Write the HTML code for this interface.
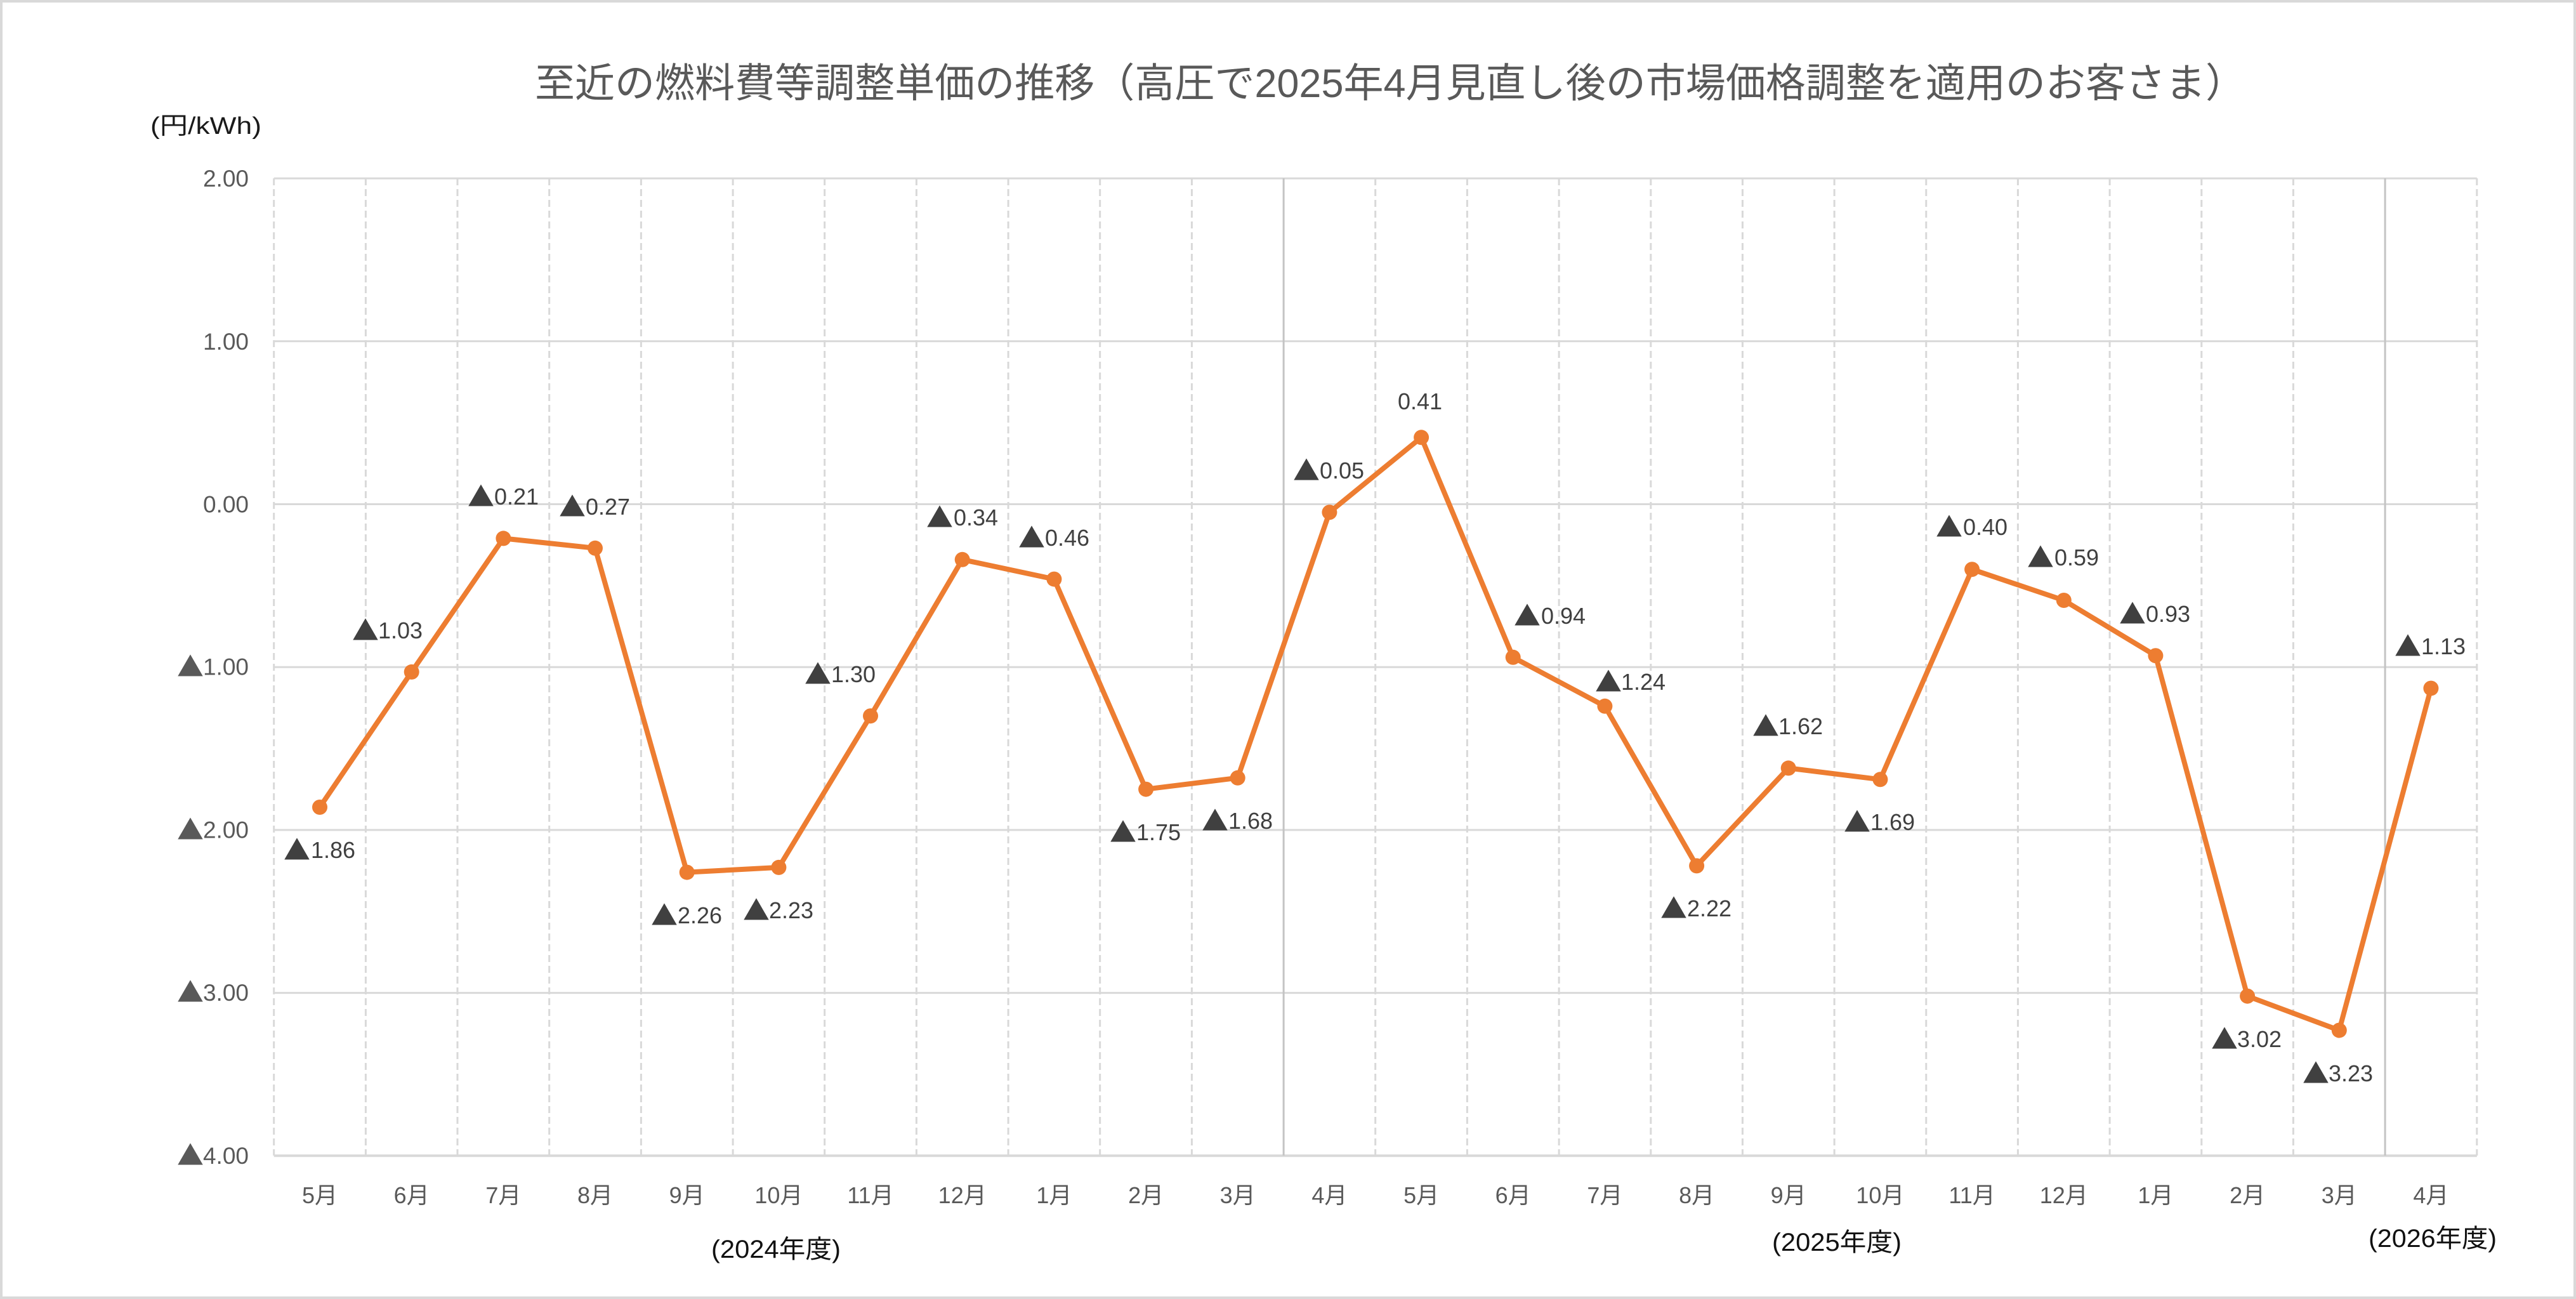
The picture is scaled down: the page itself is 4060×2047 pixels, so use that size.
<!DOCTYPE html>
<html lang="ja">
<head>
<meta charset="utf-8">
<style>
  html, body { margin: 0; padding: 0; background: #ffffff; }
  svg { display: block; }
  .cjk { font-family: "Liberation Sans", "Noto Sans CJK JP", sans-serif; }
  .num { font-family: "Liberation Sans", sans-serif; }
  .tri { font-family: "Noto Sans CJK JP", "DejaVu Sans", sans-serif; }
</style>
</head>
<body>
<svg width="4060" height="2047" viewBox="0 0 4060 2047" xmlns="http://www.w3.org/2000/svg">
  <rect x="0" y="0" width="4060" height="2047" fill="#ffffff"/>
  <rect x="2" y="2" width="4056" height="2043" fill="none" stroke="#d9d9d9" stroke-width="4"/>

  <!-- Title -->
  <text class="cjk" x="843" y="153" font-size="63.5" fill="#595959" textLength="2696" lengthAdjust="spacingAndGlyphs">至近の燃料費等調整単価の推移（高圧で2025年4月見直し後の市場価格調整を適用のお客さま）</text>

  <!-- Unit -->
  <text class="cjk" x="237" y="211" font-size="38" fill="#1a1a1a" textLength="175" lengthAdjust="spacingAndGlyphs">(円/kWh)</text>

  <!-- Horizontal gridlines -->
  <g stroke="#d9d9d9" stroke-width="3">
    <line x1="431.7" y1="281.1" x2="3903.8" y2="281.1"/>
    <line x1="431.7" y1="537.8" x2="3903.8" y2="537.8"/>
    <line x1="431.7" y1="794.5" x2="3903.8" y2="794.5"/>
    <line x1="431.7" y1="1051.2" x2="3903.8" y2="1051.2"/>
    <line x1="431.7" y1="1307.9" x2="3903.8" y2="1307.9"/>
    <line x1="431.7" y1="1564.6" x2="3903.8" y2="1564.6"/>
    <line x1="431.7" y1="1821.3" x2="3903.8" y2="1821.3" stroke-width="4"/>
  </g>

  <!-- Vertical dashed gridlines -->
  <g stroke="#d9d9d9" stroke-width="3" stroke-dasharray="11 6">
    <line x1="431.7" y1="281" x2="431.7" y2="1821"/>
    <line x1="576.4" y1="281" x2="576.4" y2="1821"/>
    <line x1="721.0" y1="281" x2="721.0" y2="1821"/>
    <line x1="865.7" y1="281" x2="865.7" y2="1821"/>
    <line x1="1010.4" y1="281" x2="1010.4" y2="1821"/>
    <line x1="1155.1" y1="281" x2="1155.1" y2="1821"/>
    <line x1="1299.7" y1="281" x2="1299.7" y2="1821"/>
    <line x1="1444.4" y1="281" x2="1444.4" y2="1821"/>
    <line x1="1589.1" y1="281" x2="1589.1" y2="1821"/>
    <line x1="1733.7" y1="281" x2="1733.7" y2="1821"/>
    <line x1="1878.4" y1="281" x2="1878.4" y2="1821"/>
    <line x1="2167.7" y1="281" x2="2167.7" y2="1821"/>
    <line x1="2312.4" y1="281" x2="2312.4" y2="1821"/>
    <line x1="2457.1" y1="281" x2="2457.1" y2="1821"/>
    <line x1="2601.8" y1="281" x2="2601.8" y2="1821"/>
    <line x1="2746.4" y1="281" x2="2746.4" y2="1821"/>
    <line x1="2891.1" y1="281" x2="2891.1" y2="1821"/>
    <line x1="3035.8" y1="281" x2="3035.8" y2="1821"/>
    <line x1="3180.4" y1="281" x2="3180.4" y2="1821"/>
    <line x1="3325.1" y1="281" x2="3325.1" y2="1821"/>
    <line x1="3469.8" y1="281" x2="3469.8" y2="1821"/>
    <line x1="3614.4" y1="281" x2="3614.4" y2="1821"/>
    <line x1="3903.8" y1="281" x2="3903.8" y2="1821"/>
  </g>
  <!-- Solid fiscal-year separators -->
  <g stroke="#c4c4c4" stroke-width="3">
    <line x1="2023.1" y1="281" x2="2023.1" y2="1821"/>
    <line x1="3759.1" y1="281" x2="3759.1" y2="1821"/>
  </g>

  <!-- Y axis tick labels -->
  <g class="num" font-size="37" fill="#595959" text-anchor="end">
    <text x="392" y="294.1">2.00</text>
    <text x="392" y="550.8">1.00</text>
    <text x="392" y="807.5">0.00</text>
    <text x="392" y="1063.7">1.00</text>
    <text x="392" y="1320.4">2.00</text>
    <text x="392" y="1577.1">3.00</text>
    <text x="392" y="1833.8">4.00</text>
  </g>
  <g class="tri" font-size="42" fill="#595959">
    <text x="279" y="1066">▲</text>
    <text x="279" y="1323">▲</text>
    <text x="279" y="1579">▲</text>
    <text x="279" y="1836">▲</text>
  </g>

  <!-- X axis labels -->
  <g class="cjk" font-size="36" fill="#595959" text-anchor="middle">
    <text x="504.0" y="1896">5月</text>
    <text x="648.7" y="1896">6月</text>
    <text x="793.4" y="1896">7月</text>
    <text x="938.0" y="1896">8月</text>
    <text x="1082.7" y="1896">9月</text>
    <text x="1227.4" y="1896">10月</text>
    <text x="1372.0" y="1896">11月</text>
    <text x="1516.7" y="1896">12月</text>
    <text x="1661.4" y="1896">1月</text>
    <text x="1806.1" y="1896">2月</text>
    <text x="1950.7" y="1896">3月</text>
    <text x="2095.4" y="1896">4月</text>
    <text x="2240.1" y="1896">5月</text>
    <text x="2384.7" y="1896">6月</text>
    <text x="2529.4" y="1896">7月</text>
    <text x="2674.1" y="1896">8月</text>
    <text x="2818.7" y="1896">9月</text>
    <text x="2963.4" y="1896">10月</text>
    <text x="3108.1" y="1896">11月</text>
    <text x="3252.8" y="1896">12月</text>
    <text x="3397.4" y="1896">1月</text>
    <text x="3542.1" y="1896">2月</text>
    <text x="3686.8" y="1896">3月</text>
    <text x="3831.4" y="1896">4月</text>
  </g>

  <!-- Fiscal year labels -->
  <g class="cjk" font-size="40" fill="#111111">
    <text x="1121" y="1982" textLength="204" lengthAdjust="spacingAndGlyphs">(2024年度)</text>
    <text x="2793" y="1971" textLength="204" lengthAdjust="spacingAndGlyphs">(2025年度)</text>
    <text x="3733" y="1965" textLength="202" lengthAdjust="spacingAndGlyphs">(2026年度)</text>
  </g>

  <!-- Series line -->
  <polyline fill="none" stroke="#ED7D31" stroke-width="8" stroke-linejoin="round" stroke-linecap="round"
    points="504.0,1272.0 648.7,1058.9 793.4,848.4 938.0,863.8 1082.7,1374.6 1227.4,1366.9 1372.0,1128.2 1516.7,881.8 1661.4,912.6 1806.1,1243.7 1950.7,1225.8 2095.4,807.3 2240.1,689.3 2384.7,1035.8 2529.4,1112.8 2674.1,1364.4 2818.7,1210.4 2963.4,1228.3 3108.1,897.2 3252.8,946.0 3397.4,1033.2 3542.1,1569.7 3686.8,1623.6 3831.4,1084.6"/>
  <g fill="#ED7D31">
    <circle cx="504.0" cy="1272.0" r="12"/>
    <circle cx="648.7" cy="1058.9" r="12"/>
    <circle cx="793.4" cy="848.4" r="12"/>
    <circle cx="938.0" cy="863.8" r="12"/>
    <circle cx="1082.7" cy="1374.6" r="12"/>
    <circle cx="1227.4" cy="1366.9" r="12"/>
    <circle cx="1372.0" cy="1128.2" r="12"/>
    <circle cx="1516.7" cy="881.8" r="12"/>
    <circle cx="1661.4" cy="912.6" r="12"/>
    <circle cx="1806.1" cy="1243.7" r="12"/>
    <circle cx="1950.7" cy="1225.8" r="12"/>
    <circle cx="2095.4" cy="807.3" r="12"/>
    <circle cx="2240.1" cy="689.3" r="12"/>
    <circle cx="2384.7" cy="1035.8" r="12"/>
    <circle cx="2529.4" cy="1112.8" r="12"/>
    <circle cx="2674.1" cy="1364.4" r="12"/>
    <circle cx="2818.7" cy="1210.4" r="12"/>
    <circle cx="2963.4" cy="1228.3" r="12"/>
    <circle cx="3108.1" cy="897.2" r="12"/>
    <circle cx="3252.8" cy="946.0" r="12"/>
    <circle cx="3397.4" cy="1033.2" r="12"/>
    <circle cx="3542.1" cy="1569.7" r="12"/>
    <circle cx="3686.8" cy="1623.6" r="12"/>
    <circle cx="3831.4" cy="1084.6" r="12"/>
  </g>

  <!-- Data labels: numbers -->
  <g class="num" font-size="36" fill="#404040" text-anchor="end">
    <text x="560" y="1352" textLength="70" lengthAdjust="spacingAndGlyphs">1.86</text>
    <text x="666" y="1006" textLength="70" lengthAdjust="spacingAndGlyphs">1.03</text>
    <text x="849" y="795" textLength="70" lengthAdjust="spacingAndGlyphs">0.21</text>
    <text x="993" y="811" textLength="70" lengthAdjust="spacingAndGlyphs">0.27</text>
    <text x="1138" y="1455" textLength="70" lengthAdjust="spacingAndGlyphs">2.26</text>
    <text x="1282" y="1447" textLength="70" lengthAdjust="spacingAndGlyphs">2.23</text>
    <text x="1380" y="1075" textLength="70" lengthAdjust="spacingAndGlyphs">1.30</text>
    <text x="1573" y="828" textLength="70" lengthAdjust="spacingAndGlyphs">0.34</text>
    <text x="1717" y="860" textLength="70" lengthAdjust="spacingAndGlyphs">0.46</text>
    <text x="1861" y="1324" textLength="70" lengthAdjust="spacingAndGlyphs">1.75</text>
    <text x="2006" y="1306" textLength="70" lengthAdjust="spacingAndGlyphs">1.68</text>
    <text x="2150" y="754" textLength="70" lengthAdjust="spacingAndGlyphs">0.05</text>
    <text x="2273" y="645" textLength="70" lengthAdjust="spacingAndGlyphs">0.41</text>
    <text x="2499" y="983" textLength="70" lengthAdjust="spacingAndGlyphs">0.94</text>
    <text x="2625" y="1087" textLength="70" lengthAdjust="spacingAndGlyphs">1.24</text>
    <text x="2729" y="1444" textLength="70" lengthAdjust="spacingAndGlyphs">2.22</text>
    <text x="2873" y="1157" textLength="70" lengthAdjust="spacingAndGlyphs">1.62</text>
    <text x="3018" y="1308" textLength="70" lengthAdjust="spacingAndGlyphs">1.69</text>
    <text x="3164" y="843" textLength="70" lengthAdjust="spacingAndGlyphs">0.40</text>
    <text x="3308" y="891" textLength="70" lengthAdjust="spacingAndGlyphs">0.59</text>
    <text x="3452" y="980" textLength="70" lengthAdjust="spacingAndGlyphs">0.93</text>
    <text x="3596" y="1650" textLength="70" lengthAdjust="spacingAndGlyphs">3.02</text>
    <text x="3740" y="1704" textLength="70" lengthAdjust="spacingAndGlyphs">3.23</text>
    <text x="3886" y="1031" textLength="70" lengthAdjust="spacingAndGlyphs">1.13</text>
  </g>
  <!-- Data labels: triangles -->
  <g class="tri" font-size="42" fill="#404040">
    <text x="447" y="1355">▲</text>
    <text x="555" y="1009">▲</text>
    <text x="737" y="798">▲</text>
    <text x="881" y="814">▲</text>
    <text x="1026" y="1458">▲</text>
    <text x="1171" y="1450">▲</text>
    <text x="1268" y="1078">▲</text>
    <text x="1460" y="831">▲</text>
    <text x="1605" y="863">▲</text>
    <text x="1749" y="1327">▲</text>
    <text x="1894" y="1309">▲</text>
    <text x="2038" y="757">▲</text>
    <text x="2386" y="986">▲</text>
    <text x="2514" y="1090">▲</text>
    <text x="2617" y="1447">▲</text>
    <text x="2762" y="1160">▲</text>
    <text x="2906" y="1311">▲</text>
    <text x="3051" y="846">▲</text>
    <text x="3195" y="894">▲</text>
    <text x="3340" y="983">▲</text>
    <text x="3485" y="1653">▲</text>
    <text x="3629" y="1707">▲</text>
    <text x="3774" y="1034">▲</text>
  </g>
</svg>
</body>
</html>
